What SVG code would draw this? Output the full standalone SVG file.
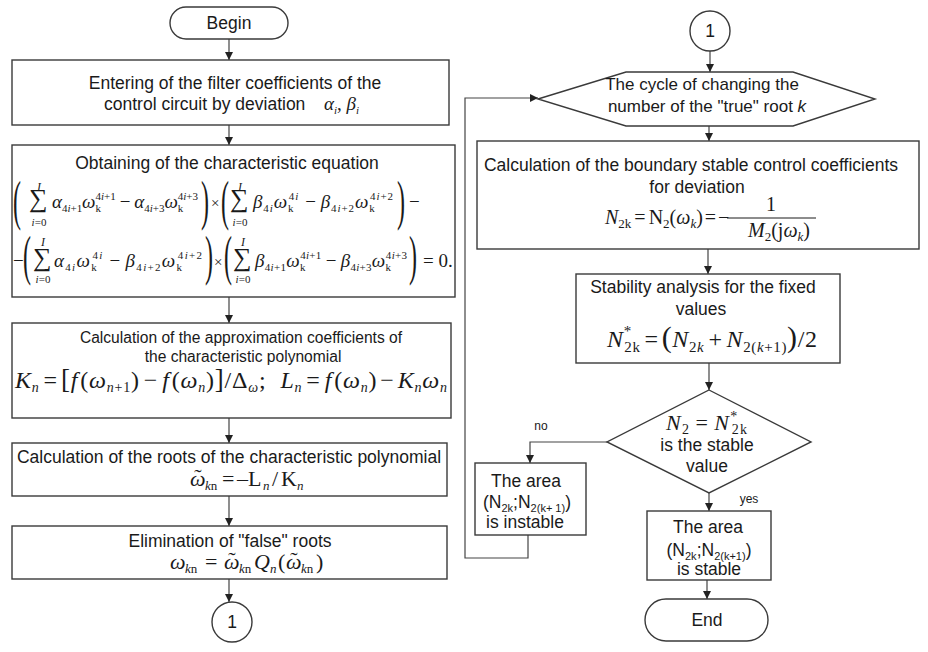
<svg xmlns="http://www.w3.org/2000/svg" width="928" height="652" viewBox="0 0 928 652">
<defs>
<marker id="ah" markerWidth="8" markerHeight="8" refX="8" refY="4" orient="auto" markerUnits="userSpaceOnUse">
<path d="M0,0 L8,4 L0,8 Z" fill="#222"/>
</marker>
<style>
.bx{fill:#fff;stroke:#3a3a3a;stroke-width:1.4}
.t{font-family:"Liberation Sans",Arial,sans-serif;font-size:17.5px;fill:#1a1a1a;text-anchor:middle}
.sm{font-family:"Liberation Sans",Arial,sans-serif;font-size:12px;fill:#1a1a1a;text-anchor:middle}
.m{font-family:"Liberation Serif","Times New Roman",serif;font-size:19px;fill:#1a1a1a}
.f{font-family:"Liberation Serif","Times New Roman",serif;font-size:22px;fill:#1a1a1a}
.fs{font-family:"Liberation Serif","Times New Roman",serif;font-size:13px;fill:#1a1a1a}
.i{font-style:italic}
.s{font-size:11px}
.sub{font-size:11px}
.ca{stroke:#444;stroke-width:1.2;fill:none;marker-end:url(#ah)}
</style>
</defs>

<g id="connectors">
<line class="ca" x1="229" y1="39" x2="229" y2="60"/>
<line class="ca" x1="229" y1="125" x2="229" y2="145"/>
<line class="ca" x1="229" y1="297" x2="229" y2="323"/>
<line class="ca" x1="229" y1="418" x2="229" y2="443"/>
<line class="ca" x1="229" y1="496" x2="229" y2="526"/>
<line class="ca" x1="229" y1="579" x2="229" y2="602"/>
<line class="ca" x1="710" y1="51" x2="710" y2="72"/>
<line class="ca" x1="709" y1="126" x2="709" y2="141"/>
<line class="ca" x1="708" y1="249" x2="708" y2="274"/>
<line class="ca" x1="709" y1="363" x2="709" y2="390"/>
<line class="ca" x1="709" y1="493" x2="709" y2="511"/>
<line class="ca" x1="707" y1="580" x2="707" y2="599"/>
<polyline class="ca" points="607,442 530,442 530,463"/>
<polyline class="ca" points="528,535 528,558 465,558 465,98 538,98"/>
<text class="sm" x="541" y="430">no</text>
<text class="sm" x="749" y="503">yes</text>
</g>

<g id="begin">
<rect class="bx" x="170" y="7" width="118" height="32" rx="16"/>
<text class="t" x="229" y="29">Begin</text>
</g>

<g id="box1">
<rect class="bx" x="12" y="60" width="437" height="65"/>
<text class="t" x="235" y="89">Entering of the filter coefficients of the</text>
<text class="t" x="104" y="110" style="text-anchor:start">control circuit by deviation</text>
<text class="m" x="324" y="110" style="font-size:19px"><tspan class="i">α</tspan><tspan class="s i" dy="4">i</tspan><tspan dy="-4">, </tspan><tspan class="i">β</tspan><tspan class="s i" dy="4">i</tspan></text>
</g>

<g id="box2">
<rect class="bx" x="12" y="145" width="443" height="152"/>
<text class="t" x="227" y="169">Obtaining of the characteristic equation</text>
<text class="m" transform="translate(13,218.5) scale(1,2.25)" style="font-size:24px">(</text>
<text class="m" x="29" y="207" style="font-size:26px">∑</text>
<text class="m i" x="39" y="191" style="font-size:12px;text-anchor:middle">I</text>
<text class="m" x="39" y="226" style="font-size:11px;text-anchor:middle"><tspan class="i">i</tspan>=0</text>
<text class="m" x="52" y="208" textLength="146" lengthAdjust="spacing"><tspan class="i">α</tspan><tspan class="s" dy="4">4<tspan class="i">i</tspan>+1</tspan><tspan class="i" dy="-4">ω</tspan><tspan class="s" dy="4">k</tspan><tspan class="s" dx="-5.5" dy="-12">4<tspan class="i">i</tspan>+1</tspan><tspan dx="4" dy="8">−</tspan><tspan class="i" dx="4">α</tspan><tspan class="s" dy="4">4<tspan class="i">i</tspan>+3</tspan><tspan class="i" dy="-4">ω</tspan><tspan class="s" dy="4">k</tspan><tspan class="s" dx="-5.5" dy="-12">4<tspan class="i">i</tspan>+3</tspan></text>
<text class="m" transform="translate(201,218.5) scale(1,2.25)" style="font-size:24px">)</text>
<text class="m" x="211" y="208" style="font-size:15px">×</text>
<text class="m" transform="translate(221,218.5) scale(1,2.25)" style="font-size:24px">(</text>
<text class="m" x="230" y="207" style="font-size:26px">∑</text>
<text class="m i" x="240" y="191" style="font-size:12px;text-anchor:middle">I</text>
<text class="m" x="240" y="226" style="font-size:11px;text-anchor:middle"><tspan class="i">i</tspan>=0</text>
<text class="m" x="253" y="208" textLength="140" lengthAdjust="spacing"><tspan class="i">β</tspan><tspan class="s" dy="4">4<tspan class="i">i</tspan></tspan><tspan class="i" dy="-4">ω</tspan><tspan class="s" dy="4">k</tspan><tspan class="s" dx="-5.5" dy="-12">4<tspan class="i">i</tspan></tspan><tspan dx="6" dy="8">−</tspan><tspan class="i" dx="4">β</tspan><tspan class="s" dy="4">4<tspan class="i">i</tspan>+2</tspan><tspan class="i" dy="-4">ω</tspan><tspan class="s" dy="4">k</tspan><tspan class="s" dx="-5.5" dy="-12">4<tspan class="i">i</tspan>+2</tspan></text>
<text class="m" transform="translate(397,218.5) scale(1,2.25)" style="font-size:24px">)</text>
<text class="m" x="409" y="208">−</text>
<text class="m" x="13" y="267">−</text>
<text class="m" transform="translate(23,273.5) scale(1,2.25)" style="font-size:24px">(</text>
<text class="m" x="33" y="266" style="font-size:26px">∑</text>
<text class="m i" x="43" y="246" style="font-size:12px;text-anchor:middle">I</text>
<text class="m" x="43" y="283" style="font-size:11px;text-anchor:middle"><tspan class="i">i</tspan>=0</text>
<text class="m" x="54" y="267" textLength="148" lengthAdjust="spacing"><tspan class="i">α</tspan><tspan class="s" dy="4">4<tspan class="i">i</tspan></tspan><tspan class="i" dy="-4">ω</tspan><tspan class="s" dy="4">k</tspan><tspan class="s" dx="-5.5" dy="-12">4<tspan class="i">i</tspan></tspan><tspan dx="6" dy="8">−</tspan><tspan class="i" dx="4">β</tspan><tspan class="s" dy="4">4<tspan class="i">i</tspan>+2</tspan><tspan class="i" dy="-4">ω</tspan><tspan class="s" dy="4">k</tspan><tspan class="s" dx="-5.5" dy="-12">4<tspan class="i">i</tspan>+2</tspan></text>
<text class="m" transform="translate(205,273.5) scale(1,2.25)" style="font-size:24px">)</text>
<text class="m" x="214" y="267" style="font-size:15px">×</text>
<text class="m" transform="translate(224,273.5) scale(1,2.25)" style="font-size:24px">(</text>
<text class="m" x="233" y="266" style="font-size:26px">∑</text>
<text class="m i" x="243" y="246" style="font-size:12px;text-anchor:middle">I</text>
<text class="m" x="243" y="283" style="font-size:11px;text-anchor:middle"><tspan class="i">i</tspan>=0</text>
<text class="m" x="255" y="267" textLength="152" lengthAdjust="spacing"><tspan class="i">β</tspan><tspan class="s" dy="4">4<tspan class="i">i</tspan>+1</tspan><tspan class="i" dy="-4">ω</tspan><tspan class="s" dy="4">k</tspan><tspan class="s" dx="-5.5" dy="-12">4<tspan class="i">i</tspan>+1</tspan><tspan dx="4" dy="8">−</tspan><tspan class="i" dx="4">β</tspan><tspan class="s" dy="4">4<tspan class="i">i</tspan>+3</tspan><tspan class="i" dy="-4">ω</tspan><tspan class="s" dy="4">k</tspan><tspan class="s" dx="-5.5" dy="-12">4<tspan class="i">i</tspan>+3</tspan></text>
<text class="m" transform="translate(409,273.5) scale(1,2.25)" style="font-size:24px">)</text>
<text class="m" x="423" y="267">= 0.</text>
</g>

<g id="box3">
<rect class="bx" x="12" y="323" width="439" height="95"/>
<text class="t" x="241" y="343" style="font-size:15.6px">Calculation of the approximation coefficients of</text>
<text class="t" x="243" y="362" style="font-size:15.6px">the characteristic polynomial</text>
<text class="m" x="15" y="388" style="font-size:24px" textLength="432" lengthAdjust="spacing"><tspan class="i">K</tspan><tspan class="i" style="font-size:14px" dy="4">n</tspan><tspan dx="4" dy="-4">=</tspan><tspan dx="3" style="font-size:27px">[</tspan><tspan class="i">f</tspan><tspan dx="2">(</tspan><tspan class="i">ω</tspan><tspan style="font-size:14px" dy="4"><tspan class="i">n</tspan>+1</tspan><tspan dy="-4">)</tspan><tspan dx="4">−</tspan><tspan class="i" dx="4">f</tspan><tspan dx="2">(</tspan><tspan class="i">ω</tspan><tspan class="i" style="font-size:14px" dy="4">n</tspan><tspan dy="-4">)</tspan><tspan style="font-size:27px">]</tspan><tspan>/</tspan><tspan>Δ</tspan><tspan class="i" style="font-size:14px" dy="4">ω</tspan><tspan dy="-4">;</tspan><tspan class="i" dx="14">L</tspan><tspan class="i" style="font-size:14px" dy="4">n</tspan><tspan dx="4" dy="-4">=</tspan><tspan class="i" dx="4">f</tspan><tspan dx="2">(</tspan><tspan class="i">ω</tspan><tspan class="i" style="font-size:14px" dy="4">n</tspan><tspan dy="-4">)</tspan><tspan dx="3">−</tspan><tspan class="i" dx="3">K</tspan><tspan class="i" style="font-size:14px" dy="4">n</tspan><tspan class="i" dy="-4">ω</tspan><tspan class="i" style="font-size:14px" dy="4">n</tspan></text>
</g>

<g id="box4">
<rect class="bx" x="12" y="443" width="435" height="53"/>
<text class="t" x="229" y="463">Calculation of the roots of the characteristic polynomial</text>
<text class="f i" x="190" y="486">ω</text>
<text class="f" x="198" y="484" style="text-anchor:middle">˜</text>
<text class="fs" x="205" y="490"><tspan class="i">k</tspan>n</text>
<text class="f" x="222" y="486">=</text>
<text class="f" x="237" y="486">–L</text>
<text class="fs i" x="263" y="490">n</text>
<text class="f" x="272" y="486">/</text>
<text class="f" x="281" y="486">K</text>
<text class="fs i" x="297" y="490">n</text>
</g>

<g id="box5">
<rect class="bx" x="12" y="526" width="435" height="53"/>
<text class="t" x="230" y="547">Elimination of "false" roots</text>
<text class="f i" x="170" y="569">ω</text>
<text class="fs" x="185" y="573"><tspan class="i">k</tspan>n</text>
<text class="f" x="205" y="569">=</text>
<text class="f i" x="224" y="569">ω</text>
<text class="f" x="232" y="567" style="text-anchor:middle">˜</text>
<text class="fs" x="239" y="573"><tspan class="i">k</tspan>n</text>
<text class="f i" x="254" y="569">Q</text>
<text class="fs i" x="270" y="573">n</text>
<text class="f" x="278" y="569">(</text>
<text class="f i" x="286" y="569">ω</text>
<text class="f" x="294" y="567" style="text-anchor:middle">˜</text>
<text class="fs" x="301" y="573"><tspan class="i">k</tspan>n</text>
<text class="f" x="316" y="569">)</text>
</g>

<g id="connector-out">
<circle class="bx" cx="232" cy="622" r="20"/>
<text class="t" x="232" y="628">1</text>
</g>

<g id="connector-in">
<circle class="bx" cx="710" cy="31" r="20"/>
<text class="t" x="710" y="37">1</text>
</g>

<g id="cycle">
<polygon class="bx" points="538,99 626,72 793,72 875,99 793,126 626,126"/>
<text class="t" x="702" y="90" style="font-size:17px">The cycle of changing the</text>
<text class="t" x="707" y="112" style="font-size:17px">number of the "true" root <tspan font-style="italic">k</tspan></text>
</g>

<g id="box6">
<rect class="bx" x="477" y="141" width="442" height="108"/>
<text class="t" x="691" y="171">Calculation of the boundary stable control coefficients</text>
<text class="t" x="697" y="193">for deviation</text>
<text class="m" x="605" y="224" style="font-size:20px"><tspan class="i">N</tspan><tspan style="font-size:13px" dy="4">2k</tspan><tspan dx="3" dy="-4">=</tspan><tspan dx="3">N</tspan><tspan style="font-size:13px" dy="4">2</tspan><tspan dy="-4">(</tspan><tspan class="i">ω</tspan><tspan class="i" style="font-size:13px" dy="4">k</tspan><tspan dy="-4">)</tspan><tspan dx="2">=</tspan><tspan dx="2">−</tspan></text>
<text class="m" x="771" y="211" style="font-size:20px;text-anchor:middle">1</text>
<line x1="727" y1="218" x2="816" y2="218" stroke="#1a1a1a" stroke-width="1"/>
<text class="m" x="779" y="237" style="font-size:20px;text-anchor:middle"><tspan class="i">M</tspan><tspan style="font-size:13px" dy="4">2</tspan><tspan dy="-4">(j</tspan><tspan class="i">ω</tspan><tspan class="i" style="font-size:13px" dy="4">k</tspan><tspan dy="-4">)</tspan></text>
</g>

<g id="box7">
<rect class="bx" x="576" y="274" width="264" height="89"/>
<text class="t" x="703" y="293">Stability analysis for the fixed</text>
<text class="t" x="701" y="315">values</text>
<text class="m" x="607" y="347" style="font-size:24px" textLength="210" lengthAdjust="spacing"><tspan class="i">N</tspan><tspan style="font-size:15px" dy="-11">*</tspan><tspan style="font-size:15px" dx="-7.5" dy="16">2k</tspan><tspan dx="4" dy="-5">=</tspan><tspan dx="3" style="font-size:30px">(</tspan><tspan class="i">N</tspan><tspan class="i" style="font-size:15px" dy="5"><tspan style="font-style:normal">2</tspan>k</tspan><tspan dx="4" dy="-5">+</tspan><tspan class="i" dx="4">N</tspan><tspan style="font-size:15px" dy="5">2(<tspan class="i">k</tspan>+1)</tspan><tspan style="font-size:30px" dy="-5">)</tspan><tspan>/2</tspan></text>
</g>

<g id="decision">
<polygon class="bx" points="709,390 811,442 709,493 607,442"/>
<text class="m" x="666" y="430" style="font-size:22px" textLength="81" lengthAdjust="spacing"><tspan class="i">N</tspan><tspan style="font-size:14px" dy="4">2</tspan><tspan dx="5" dy="-4">=</tspan><tspan class="i" dx="5">N</tspan><tspan style="font-size:14px" dy="-9">*</tspan><tspan style="font-size:14px" dx="-7" dy="13">2k</tspan></text>
<text class="t" x="707" y="451">is the stable</text>
<text class="t" x="707" y="472">value</text>
</g>

<g id="instable">
<rect class="bx" x="475" y="463" width="111" height="72"/>
<text class="t" x="526" y="487">The area</text>
<text class="t" x="527" y="508">(N<tspan class="sub" dy="4">2k</tspan><tspan dy="-4">;N</tspan><tspan class="sub" dy="4">2(k+ 1)</tspan><tspan dy="-4">)</tspan></text>
<text class="t" x="525" y="528">is instable</text>
</g>

<g id="stable">
<rect class="bx" x="647" y="511" width="124" height="69"/>
<text class="t" x="708" y="533">The area</text>
<text class="t" x="709" y="556">(N<tspan class="sub" dy="4">2k</tspan><tspan dy="-4">;N</tspan><tspan class="sub" dy="4">2(k+1)</tspan><tspan dy="-4">)</tspan></text>
<text class="t" x="709" y="575">is stable</text>
</g>

<g id="end">
<rect class="bx" x="645" y="599" width="123" height="42" rx="21"/>
<text class="t" x="707" y="626">End</text>
</g>
</svg>
